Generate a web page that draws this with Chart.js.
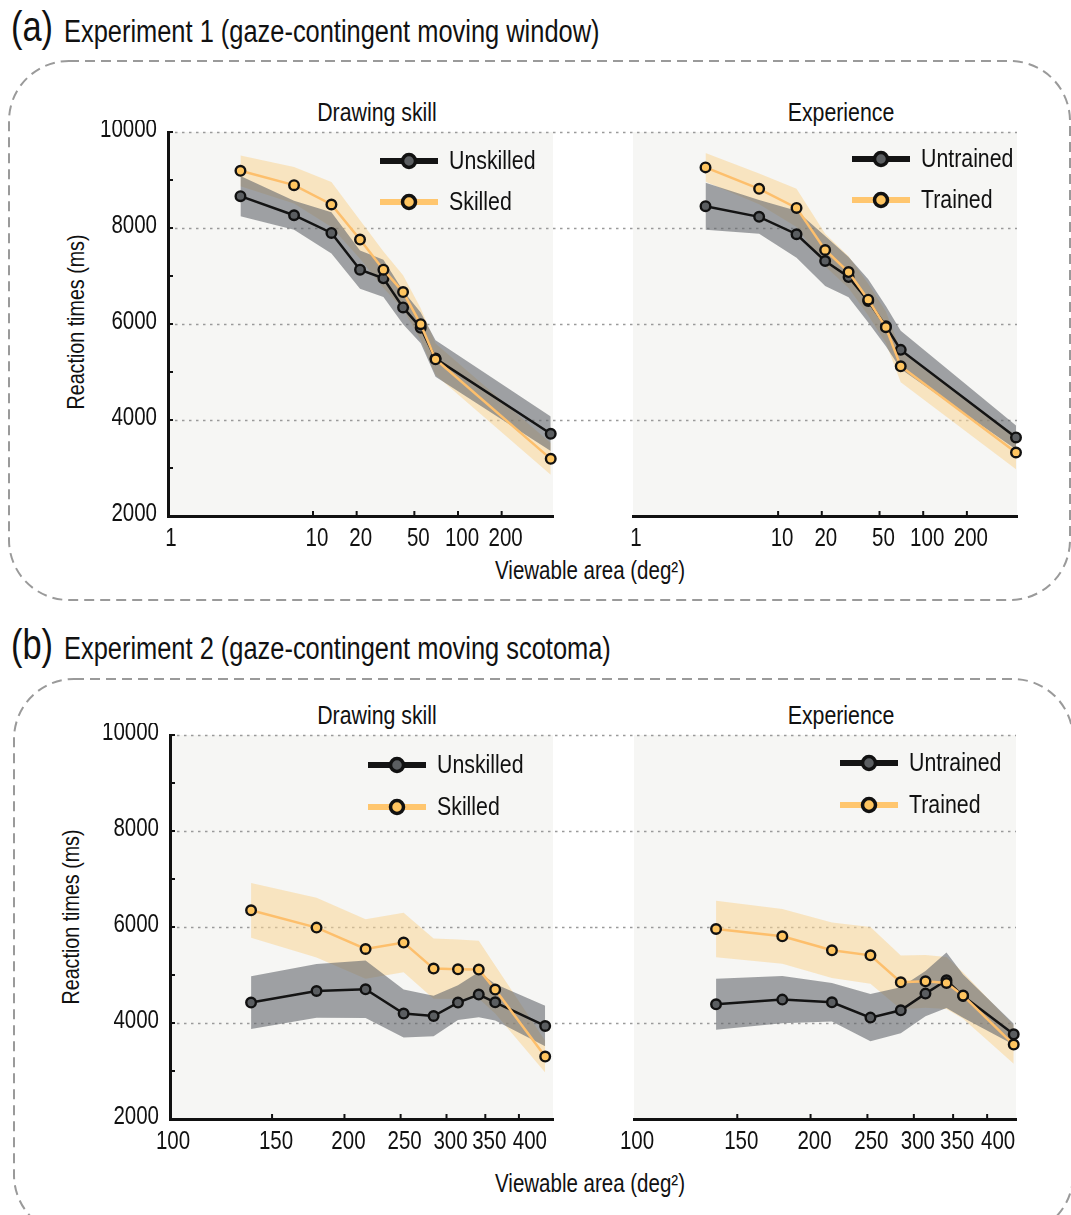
<!DOCTYPE html>
<html>
<head>
<meta charset="utf-8">
<script src="https://cdn.jsdelivr.net/npm/chart.js@4.4.1/dist/chart.umd.min.js"></script>
<style>
  body { margin: 0; background: #fff; width: 1071px; height: 1215px; position: relative; overflow: hidden;
         font-family: 'Liberation Sans', Arial, sans-serif; color: #111; }
  .t { position: absolute; white-space: nowrap; line-height: 1; }
  .l { transform: scaleX(0.82); transform-origin: 0 50%; }
  .c { transform: translateX(-50%) scaleX(0.82); }
  .v { transform: translate(-50%, -50%) rotate(-90deg) scaleX(0.82); }
  canvas { position: absolute; }
  svg { position: absolute; left: 0; top: 0; }
</style>
</head>
<body>
<svg width="1071" height="1215">
  <rect x="9" y="61" width="1061" height="539" rx="60" ry="60" fill="none" stroke="#9a9a9a" stroke-width="2" stroke-dasharray="10 6"/>
  <rect x="14" y="679" width="1059" height="556" rx="60" ry="60" fill="none" stroke="#9a9a9a" stroke-width="2" stroke-dasharray="10 6"/>
</svg>

<div class="t l" style="left:11px;top:6px;font-size:42px">(a)</div>
<div class="t l" style="left:64px;top:16px;font-size:31px">Experiment 1 (gaze-contingent moving window)</div>
<div class="t c" style="left:377px;top:99px;font-size:26px">Drawing skill</div>
<div class="t c" style="left:841px;top:99px;font-size:26px">Experience</div>
<div class="t v" style="left:76px;top:322px;font-size:24px">Reaction times (ms)</div>
<div class="t c" style="left:590px;top:558px;font-size:25px">Viewable area (deg²)</div>

<div class="t l" style="left:11px;top:624px;font-size:42px">(b)</div>
<div class="t l" style="left:64px;top:633px;font-size:31px">Experiment 2 (gaze-contingent moving scotoma)</div>
<div class="t c" style="left:377px;top:702px;font-size:26px">Drawing skill</div>
<div class="t c" style="left:841px;top:702px;font-size:26px">Experience</div>
<div class="t v" style="left:71px;top:917px;font-size:24px">Reaction times (ms)</div>
<div class="t c" style="left:590px;top:1171px;font-size:25px">Viewable area (deg²)</div>

<canvas id="aL" width="595" height="440" style="left:0;top:120px"></canvas>
<canvas id="aR" width="476" height="440" style="left:595px;top:120px"></canvas>
<canvas id="bL" width="595" height="440" style="left:0;top:723px"></canvas>
<canvas id="bR" width="476" height="440" style="left:595px;top:723px"></canvas>

<script>
// --- DATA ---
const yTicks = [2000, 4000, 6000, 8000, 10000];
const xTicks1 = [1, 10, 20, 50, 100, 200];
const xTicks2 = [100, 150, 200, 250, 300, 350, 400];

// Experiment 1: viewable area of the moving window (deg^2)
const area1 = [3.16, 7.4, 13.4, 21.1, 30.6, 41.8, 55.3, 70, 436];
const unskilled1 = [8663, 8266, 7897, 7132, 6951, 6345, 5921, 5280, 3713];
const unskilled1Err = [420, 300, 430, 400, 390, 350, 320, 380, 360];
const skilled1 = [9192, 8893, 8490, 7759, 7132, 6665, 5996, 5265, 3191];
const skilled1Err = [320, 380, 470, 400, 380, 350, 330, 330, 330];
const untrained1 = [8455, 8232, 7870, 7312, 6978, 6480, 5954, 5461, 3636];
const untrained1Err = [490, 350, 490, 520, 420, 450, 420, 400, 250];
const trained1 = [9263, 8816, 8419, 7542, 7082, 6506, 5933, 5119, 3323];
const trained1Err = [300, 320, 400, 340, 330, 330, 330, 330, 350];

// Experiment 2: viewable area around the moving scotoma (deg^2)
const area2 = [138, 179, 217.5, 253, 285, 314, 341, 364, 444];
const unskilled2 = [4425, 4667, 4702, 4196, 4146, 4425, 4592, 4431, 3938];
const unskilled2Err = [550, 560, 600, 500, 420, 360, 470, 380, 420];
const skilled2 = [6348, 5987, 5542, 5675, 5133, 5119, 5113, 4696, 3300];
const skilled2Err = [570, 620, 620, 620, 630, 620, 600, 500, 330];
const untrained2 = [4390, 4487, 4431, 4112, 4265, 4612, 4890, 4560, 3765];
const untrained2Err = [530, 490, 400, 490, 480, 470, 580, 450, 220];
const trained2 = [5958, 5806, 5515, 5410, 4848, 4869, 4833, 4571, 3550];
const trained2Err = [590, 570, 580, 590, 560, 550, 540, 480, 400];

// --- STYLE ---
const FONT = "'Liberation Sans', Arial, sans-serif";
const NARROW = 0.82; // the figure uses a condensed Helvetica
const INK = '#111';
const DARK = { line: '#141414', point: '#5b5e61', band: 'rgba(100, 104, 108, 0.6)', legend: '#141414' };
const LIGHT = { line: '#fdbf6c', point: '#ffc560', band: 'rgba(250, 214, 150, 0.55)', legend: '#ffc66e' };

Chart.defaults.font.family = FONT;
Chart.defaults.color = INK;

const pts = (xs, ys) => xs.map((x, i) => ({ x, y: ys[i] }));
const shift = (ys, es, s) => ys.map((y, i) => y + s * es[i]);

// condensed text on the canvas
const narrowText = (ctx, text, x, y, size, align, baseline) => {
    ctx.save();
    ctx.font = size + 'px ' + FONT;
    ctx.fillStyle = INK;
    ctx.textAlign = align;
    ctx.textBaseline = baseline;
    ctx.translate(x, y);
    ctx.scale(NARROW, 1);
    ctx.fillText(text, 0, 0);
    ctx.restore();
};

// background, dotted grid, inward ticks, tick labels and the line+marker legend
const panelDecor = {
    id: 'panelDecor',
    beforeDraw: (chart, args, o) => {
        const { ctx, chartArea: a, scales: { y } } = chart;
        ctx.save();
        ctx.fillStyle = '#f6f6f4';
        ctx.fillRect(a.left, a.top, a.right - a.left, a.bottom - a.top);
        ctx.strokeStyle = '#9a9a9a';
        ctx.lineWidth = 1.5;
        ctx.setLineDash([2.5, 4.5]);
        const x0 = o.showY ? a.left : 0;
        const x1 = o.showY ? chart.width : a.right;
        yTicks.slice(1).forEach(v => {
            const py = Math.round(y.getPixelForValue(v)) + 0.5;
            ctx.beginPath();
            ctx.moveTo(x0, py);
            ctx.lineTo(x1, py);
            ctx.stroke();
        });
        ctx.restore();
    },
    afterDraw: (chart, args, o) => {
        const { ctx, chartArea: a, scales: { x, y } } = chart;
        ctx.save();
        ctx.strokeStyle = INK;
        ctx.lineWidth = 2;
        o.xTicks.forEach((v, i) => {
            const px = x.getPixelForValue(v);
            if (i > 0) {
                ctx.beginPath();
                ctx.moveTo(px, a.bottom);
                ctx.lineTo(px, a.bottom - 5);
                ctx.stroke();
            }
            // labels sit a little right of their ticks, the crowded last one more so
            const nudge = i === 0 ? 3 : (v === 400 ? 11 : 4);
            narrowText(ctx, String(v), px + nudge, a.bottom + 11, 25, 'center', 'top');
        });
        if (o.showY) {
            for (let v = 2000; v <= 10000; v += 1000) {
                const py = y.getPixelForValue(v);
                ctx.beginPath();
                ctx.moveTo(a.left, py);
                ctx.lineTo(a.left + 5, py);
                ctx.stroke();
            }
            yTicks.forEach(v => narrowText(ctx, String(v), a.left - 11, y.getPixelForValue(v) - 2, 25, 'right', 'middle'));
        }
        // legend
        [[DARK, o.labels[0]], [LIGHT, o.labels[1]]].forEach(([c, label], i) => {
            const lx = a.left + o.legendX;
            const ly = a.top + o.legendY[i];
            ctx.strokeStyle = c.legend;
            ctx.lineWidth = 6;
            ctx.beginPath();
            ctx.moveTo(lx, ly);
            ctx.lineTo(lx + 58, ly);
            ctx.stroke();
            ctx.beginPath();
            ctx.arc(lx + 29, ly, 6.5, 0, Math.PI * 2);
            ctx.fillStyle = c.point;
            ctx.fill();
            ctx.lineWidth = 3.5;
            ctx.strokeStyle = INK;
            ctx.stroke();
            narrowText(ctx, label, lx + 69, ly + 1, 26, 'left', 'middle');
        });
        ctx.restore();
    }
};

const makePanel = (id, p) => {
    const lineDs = (data, c, order) => ({
        data, order, borderColor: c.line, borderWidth: 2.5, fill: false, clip: false,
        pointRadius: 4.8, pointBorderWidth: 2.4, pointBackgroundColor: c.point, pointBorderColor: INK
    });
    const edgeDs = (data, c, order, fill) => ({
        data, order, fill, backgroundColor: c.band, borderWidth: 0, borderColor: 'transparent', pointRadius: 0
    });
    new Chart(document.getElementById(id), {
        type: 'line',
        data: {
            datasets: [
                lineDs(pts(p.xs, p.light), LIGHT, 0),
                lineDs(pts(p.xs, p.dark), DARK, 1),
                edgeDs(pts(p.xs, shift(p.dark, p.darkErr, -1)), DARK, 2, false),
                edgeDs(pts(p.xs, shift(p.dark, p.darkErr, 1)), DARK, 2, 2),
                edgeDs(pts(p.xs, shift(p.light, p.lightErr, -1)), LIGHT, 3, false),
                edgeDs(pts(p.xs, shift(p.light, p.lightErr, 1)), LIGHT, 3, 4)
            ]
        },
        options: {
            responsive: false,
            animation: false,
            events: [],
            layout: { padding: p.pad },
            plugins: {
                legend: { display: false },
                tooltip: { enabled: false },
                panelDecor: { xTicks: p.xTicks, showY: p.showY, labels: p.labels, legendX: p.legendX, legendY: p.legendY }
            },
            scales: {
                x: {
                    type: 'logarithmic',
                    min: p.xMin,
                    max: p.xMax,
                    grid: { display: false, drawTicks: false },
                    border: { display: true, color: INK, width: 3 },
                    ticks: { display: false },
                    afterBuildTicks: s => { s.ticks = p.xTicks.map(v => ({ value: v })); },
                    afterFit: s => { s.height = 44; s.paddingLeft = 0; s.paddingRight = 0; }
                },
                y: {
                    display: p.showY,
                    min: 2000,
                    max: 10000,
                    grid: { display: false, drawTicks: false },
                    border: { display: true, color: INK, width: 3 },
                    ticks: { display: false, stepSize: 1000 },
                    afterFit: s => { s.width = p.yWidth; s.paddingTop = 0; s.paddingBottom = 0; }
                }
            }
        },
        plugins: [panelDecor]
    });
};

makePanel('aL', {
    xs: area1, xTicks: xTicks1, xMin: 1, xMax: 452, showY: true, yWidth: 168,
    pad: { left: 0, top: 12, right: 42, bottom: 0 },
    dark: unskilled1, darkErr: unskilled1Err, light: skilled1, lightErr: skilled1Err,
    labels: ['Unskilled', 'Skilled'], legendX: 212, legendY: [29, 70]
});
makePanel('aR', {
    xs: area1, xTicks: xTicks1, xMin: 1, xMax: 443, showY: false, yWidth: 0,
    pad: { left: 38, top: 12, right: 54, bottom: 0 },
    dark: untrained1, darkErr: untrained1Err, light: trained1, lightErr: trained1Err,
    labels: ['Untrained', 'Trained'], legendX: 219, legendY: [27, 68]
});
makePanel('bL', {
    xs: area2, xTicks: xTicks2, xMin: 100, xMax: 458, showY: true, yWidth: 170,
    pad: { left: 0, top: 12, right: 42, bottom: 0 },
    dark: unskilled2, darkErr: unskilled2Err, light: skilled2, lightErr: skilled2Err,
    labels: ['Unskilled', 'Skilled'], legendX: 198, legendY: [30, 72]
});
makePanel('bR', {
    xs: area2, xTicks: xTicks2, xMin: 100, xMax: 448, showY: false, yWidth: 0,
    pad: { left: 39, top: 12, right: 55, bottom: 0 },
    dark: untrained2, darkErr: untrained2Err, light: trained2, lightErr: trained2Err,
    labels: ['Untrained', 'Trained'], legendX: 206, legendY: [28, 70]
});
</script>
</body>
</html>
